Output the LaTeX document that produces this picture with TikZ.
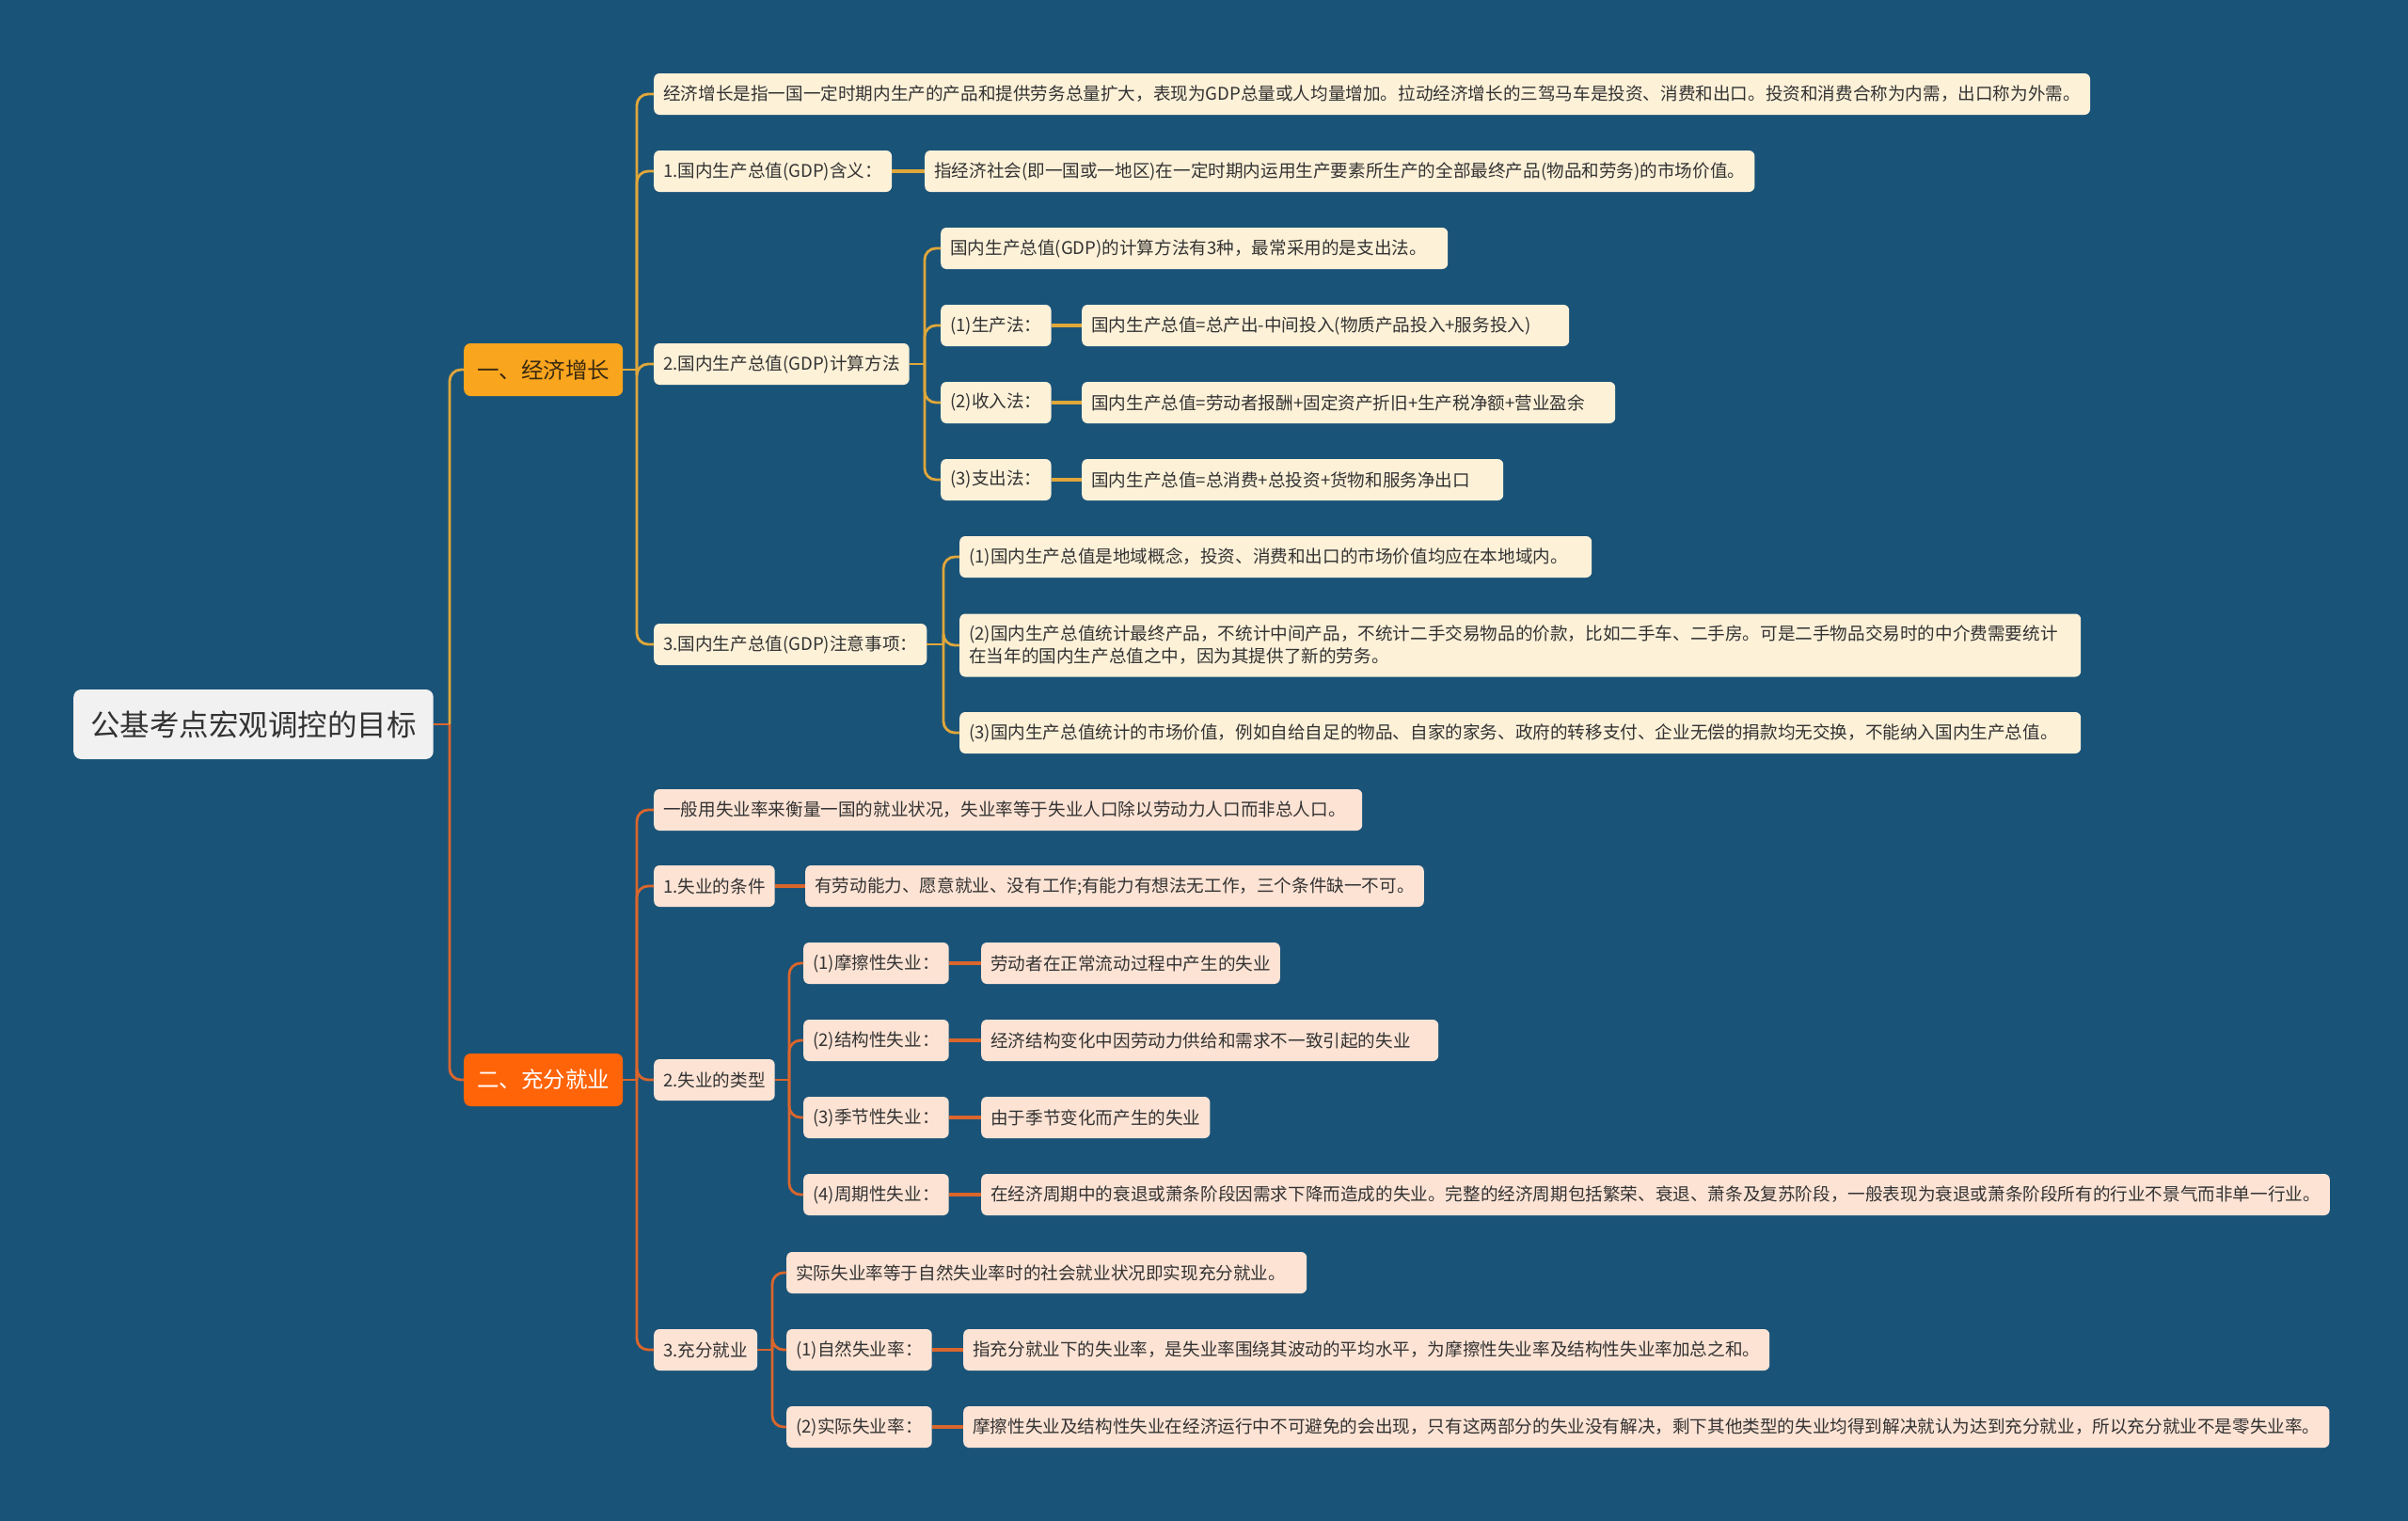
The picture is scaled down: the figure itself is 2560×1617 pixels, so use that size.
\documentclass[tikz,border=0pt]{standalone}
\usepackage{fontspec}
\setmainfont{Noto Sans CJK SC}
\definecolor{BG}{HTML}{1A5378}
\definecolor{Cream}{HTML}{FDF1D8}
\definecolor{Peach}{HTML}{FDE3D4}
\definecolor{RootFill}{HTML}{F1F1F1}
\definecolor{OrangeA}{HTML}{F9A51E}
\definecolor{OrangeB}{HTML}{FF6408}
\definecolor{GoldLine}{HTML}{E0A73A}
\definecolor{RedLine}{HTML}{DA662C}
\definecolor{TextDark}{HTML}{333333}
\definecolor{TextBrown}{HTML}{3A2A10}
\tikzset{
  lvl/.style={rounded corners=6pt, inner xsep=10pt, inner ysep=0pt, minimum height=44pt, anchor=west,
    font=\fontsize{18.6}{24}\selectfont, text=TextDark, align=left},
  gbox/.style={lvl, fill=Cream},
  rbox/.style={lvl, fill=Peach},
  gl/.style={draw=GoldLine, line width=2.8pt, rounded corners=12pt},
  rl/.style={draw=RedLine, line width=2.8pt, rounded corners=12pt},
  gthick/.style={draw=GoldLine, line width=4.5pt},
  rthick/.style={draw=RedLine, line width=4.5pt},
  bw/.style={text width=#1-20pt},
}
\begin{document}
\begin{tikzpicture}[x=1pt,y=-1pt]
\useasboundingbox[fill=BG] (0,0) rectangle (2560,1617);

% root
\node[rounded corners=8pt, fill=RootFill, inner xsep=18pt, inner ysep=0pt, minimum height=74pt, anchor=west,
  font=\fontsize{31.5}{36}\selectfont, text=TextDark] (root) at (78,770) {公基考点宏观调控的目标};

% main branches
\node[rounded corners=7pt, fill=OrangeA, inner xsep=14pt, inner ysep=0pt, minimum height=56pt, anchor=west,
  font=\fontsize{23.5}{28}\selectfont, text=TextBrown] (e1) at (493,393) {一、经济增长};
\node[rounded corners=7pt, fill=OrangeB, inner xsep=14pt, inner ysep=0pt, minimum height=56pt, anchor=west,
  font=\fontsize{23.5}{28}\selectfont, text=white] (e2) at (493,1148) {二、充分就业};

% level 2 (growth)
\node[gbox] (a1) at (695,100) {经济增长是指一国一定时期内生产的产品和提供劳务总量扩大，表现为GDP总量或人均量增加。拉动经济增长的三驾马车是投资、消费和出口。投资和消费合称为内需，出口称为外需。};
\node[gbox] (a2) at (695,182) {1.国内生产总值(GDP)含义：};
\node[gbox] (a2c) at (983,182) {指经济社会(即一国或一地区)在一定时期内运用生产要素所生产的全部最终产品(物品和劳务)的市场价值。};
\node[gbox] (a3) at (695,387) {2.国内生产总值(GDP)计算方法};
\node[gbox, bw=539pt] (a3a) at (1000,264) {国内生产总值(GDP)的计算方法有3种，最常采用的是支出法。};
\node[gbox] (a3b) at (1000,346) {(1)生产法：};
\node[gbox, bw=518pt] (a3bc) at (1150,346) {国内生产总值=总产出-中间投入(物质产品投入+服务投入)};
\node[gbox] (a3c) at (1000,428) {(2)收入法：};
\node[gbox, bw=567pt] (a3cc) at (1150,428) {国内生产总值=劳动者报酬+固定资产折旧+生产税净额+营业盈余};
\node[gbox] (a3d) at (1000,510) {(3)支出法：};
\node[gbox, bw=448pt] (a3dc) at (1150,510) {国内生产总值=总消费+总投资+货物和服务净出口};
\node[gbox] (a4) at (695,685) {3.国内生产总值(GDP)注意事项：};
\node[gbox, bw=672pt] (a4a) at (1020,592) {(1)国内生产总值是地域概念，投资、消费和出口的市场价值均应在本地域内。};
\node[gbox, minimum height=67pt, bw=1192pt] (a4b) at (1020,686) {(2)国内生产总值统计最终产品，不统计中间产品，不统计二手交易物品的价款，比如二手车、二手房。可是二手物品交易时的中介费需要统计\\在当年的国内生产总值之中，因为其提供了新的劳务。};
\node[gbox, bw=1192pt] (a4c) at (1020,779) {(3)国内生产总值统计的市场价值，例如自给自足的物品、自家的家务、政府的转移支付、企业无偿的捐款均无交换，不能纳入国内生产总值。};

% level 2 (employment)
\node[rbox, bw=753pt] (b1) at (695,861) {一般用失业率来衡量一国的就业状况，失业率等于失业人口除以劳动力人口而非总人口。};
\node[rbox] (b2) at (695,942) {1.失业的条件};
\node[rbox] (b2c) at (856,942) {有劳动能力、愿意就业、没有工作;有能力有想法无工作，三个条件缺一不可。};
\node[rbox] (b3) at (695,1148) {2.失业的类型};
\node[rbox] (c1) at (854,1024) {(1)摩擦性失业：};
\node[rbox] (c1c) at (1043,1024) {劳动者在正常流动过程中产生的失业};
\node[rbox] (c2) at (854,1106) {(2)结构性失业：};
\node[rbox, bw=486pt] (c2c) at (1043,1106) {经济结构变化中因劳动力供给和需求不一致引起的失业};
\node[rbox] (c3) at (854,1188) {(3)季节性失业：};
\node[rbox] (c3c) at (1043,1188) {由于季节变化而产生的失业};
\node[rbox] (c4) at (854,1270) {(4)周期性失业：};
\node[rbox] (c4c) at (1043,1270) {在经济周期中的衰退或萧条阶段因需求下降而造成的失业。完整的经济周期包括繁荣、衰退、萧条及复苏阶段，一般表现为衰退或萧条阶段所有的行业不景气而非单一行业。};
\node[rbox] (b4) at (695,1435) {3.充分就业};
\node[rbox, bw=553pt] (d0) at (836,1353) {实际失业率等于自然失业率时的社会就业状况即实现充分就业。};
\node[rbox] (d1) at (836,1435) {(1)自然失业率：};
\node[rbox] (d1c) at (1024,1435) {指充分就业下的失业率，是失业率围绕其波动的平均水平，为摩擦性失业率及结构性失业率加总之和。};
\node[rbox] (d2) at (836,1517) {(2)实际失业率：};
\node[rbox] (d2c) at (1024,1517) {摩擦性失业及结构性失业在经济运行中不可避免的会出现，只有这两部分的失业没有解决，剩下其他类型的失业均得到解决就认为达到充分就业，所以充分就业不是零失业率。};

% spine points
\coordinate (sR) at (478,770);
\coordinate (sA) at (677,393);
\coordinate (sA3) at (983,387);
\coordinate (sA4) at (1003,685);
\coordinate (sB) at (677,1148);
\coordinate (sB3) at (839,1148);
\coordinate (sB4) at (821,1435);

% root connectors
\draw[rl] (root.east) -- (sR);
\draw[gl] (sR) |- (e1.west);
\draw[rl] (sR) |- (e2.west);

% growth connectors
\draw[gl] (e1.east) -- (sA);
\foreach \n in {a1,a2,a3,a4} \draw[gl] (sA) |- (\n.west);
\draw[gthick] (a2.east) -- (a2c.west);
\draw[gl] (a3.east) -- (sA3);
\foreach \n in {a3a,a3b,a3c,a3d} \draw[gl] (sA3) |- (\n.west);
\draw[gthick] (a3b.east) -- (a3bc.west);
\draw[gthick] (a3c.east) -- (a3cc.west);
\draw[gthick] (a3d.east) -- (a3dc.west);
\draw[gl] (a4.east) -- (sA4);
\foreach \n in {a4a,a4b,a4c} \draw[gl] (sA4) |- (\n.west);

% employment connectors
\draw[rl] (e2.east) -- (sB);
\foreach \n in {b1,b2,b3,b4} \draw[rl] (sB) |- (\n.west);
\draw[rthick] (b2.east) -- (b2c.west);
\draw[rl] (b3.east) -- (sB3);
\foreach \n in {c1,c2,c3,c4} \draw[rl] (sB3) |- (\n.west);
\draw[rthick] (c1.east) -- (c1c.west);
\draw[rthick] (c2.east) -- (c2c.west);
\draw[rthick] (c3.east) -- (c3c.west);
\draw[rthick] (c4.east) -- (c4c.west);
\draw[rl] (b4.east) -- (sB4);
\foreach \n in {d0,d1,d2} \draw[rl] (sB4) |- (\n.west);
\draw[rthick] (d1.east) -- (d1c.west);
\draw[rthick] (d2.east) -- (d2c.west);
\end{tikzpicture}
\end{document}
